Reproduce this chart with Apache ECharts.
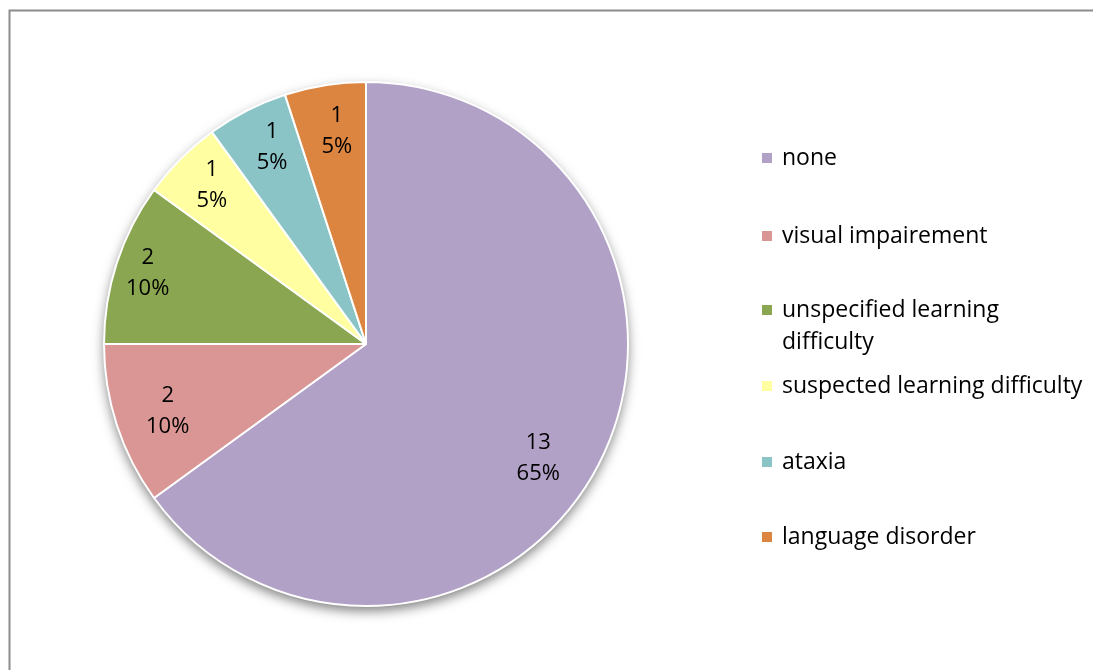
<!DOCTYPE html>
<html>
<head>
<meta charset="utf-8">
<script src="https://cdn.jsdelivr.net/npm/echarts@6/dist/echarts.min.js"></script>
<style>
  html, body { margin: 0; padding: 0; background: #fff; }
  #chart { width: 1093px; height: 670px; }
</style>
</head>
<body>
<div id="chart"></div>
<script>
// Conditions recorded across the group
const categories = ['none', 'visual impairement', 'unspecified learning difficulty',
  'suspected learning difficulty', 'ataxia', 'language disorder'];
const counts = [13, 2, 2, 1, 1, 1];
const colors = ['#B2A1C7', '#D99694', '#8BA650', '#FFFFA1', '#8AC4C6', '#DC8540'];

// Legend text (one entry wraps onto a second line; the leading blank line
// keeps the marker level with the first text line)
const legendLabels = ['none', 'visual impairement', '\nunspecified learning\ndifficulty',
  'suspected learning difficulty', 'ataxia', 'language disorder'];
const legendRows = [158, 236, 310, 386, 462, 537];

// small nudges so each label sits well inside its slice
const labelNudge = [[-22, 15], [9, 0], [-11, -3], [0, -5], [5, -3], [5, 3]];

const FONT = '"Open Sans", Lato, sans-serif';
const CENTER = [366, 344];
const R = 262;

const total = counts.reduce((a, b) => a + b, 0);
const pieData = categories.map((name, i) => ({
  name, value: counts[i], itemStyle: { color: colors[i] }
}));

const legends = categories.map((name, i) => {
  const lines = legendLabels[i].split('\n').length;
  return {
    data: [{ name, itemStyle: { color: colors[i] } }],
    orient: 'vertical',
    left: 760,
    top: legendRows[i] - 16 * lines,
    padding: 0,
    itemWidth: 12,
    itemHeight: 12,
    itemGap: 0,
    icon: 'rect',
    selectedMode: false,
    formatter: () => legendLabels[i],
    textStyle: {
      fontFamily: FONT, fontSize: 23, color: '#000', lineHeight: 32,
      padding: [0, 0, 0, 4]
    }
  };
});

const chart = echarts.init(document.getElementById('chart'), null, { renderer: 'canvas' });
chart.setOption({
  animation: false,
  backgroundColor: '#fff',
  graphic: [{
    type: 'rect', left: 7, top: 8,
    shape: { width: 1200, height: 800 },
    style: { fill: 'none', stroke: '#8c8c8c', lineWidth: 2 }
  }],
  legend: legends,
  series: [
    {
      // soft drop shadow under the whole disc
      type: 'pie', name: 'backdrop', center: CENTER, radius: R, z: 1,
      silent: true, label: { show: false }, labelLine: { show: false },
      data: [{ value: 1, name: 'backdrop',
        itemStyle: { color: '#fff', shadowBlur: 12, shadowOffsetY: 5, shadowColor: 'rgba(0,0,0,0.5)' } }]
    },
    {
      type: 'pie', name: 'conditions', center: CENTER, radius: R, z: 2,
      startAngle: 90, clockwise: true, silent: true,
      itemStyle: { borderColor: '#fff', borderWidth: 2 },
      label: { show: false }, labelLine: { show: false },
      data: pieData
    },
    {
      // transparent ring that carries the value / percent labels
      type: 'pie', name: 'labels', center: CENTER, radius: [168, R], z: 3,
      startAngle: 90, clockwise: true, silent: true,
      itemStyle: { color: 'rgba(0,0,0,0)' },
      label: {
        show: true, position: 'inside', color: '#000',
        fontFamily: FONT, fontSize: 22, lineHeight: 31,
        formatter: p => p.value + '\n' + Math.round(p.value / total * 100) + '%'
      },
      labelLine: { show: false },
      labelLayout: p => ({ dx: labelNudge[p.dataIndex][0], dy: labelNudge[p.dataIndex][1] }),
      data: categories.map((name, i) => ({ name, value: counts[i] }))
    }
  ]
});
</script>
</body>
</html>
